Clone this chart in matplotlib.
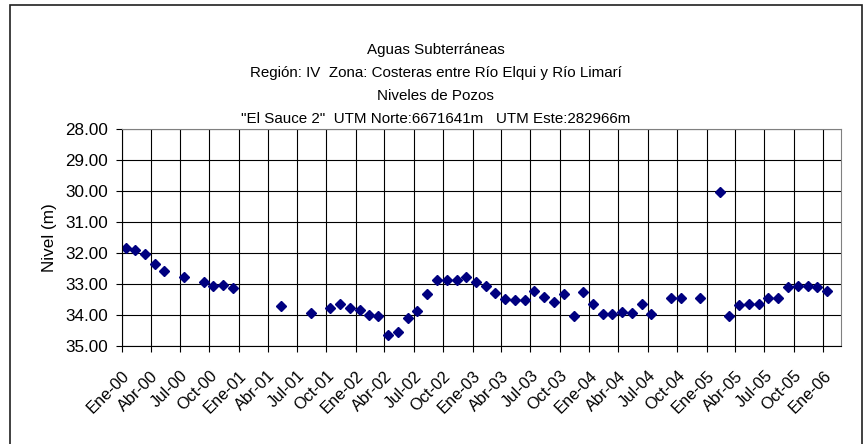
import datetime as dt
import matplotlib
matplotlib.use("Agg")
import matplotlib.pyplot as plt
import matplotlib.dates as mdates
from matplotlib.patches import Rectangle

plt.rcParams['font.family'] = ['Liberation Sans', 'DejaVu Sans']

# monthly readings (year, month) and water level below ground (m)
months = [
    (2000, 1), (2000, 2), (2000, 3), (2000, 4), (2000, 5), (2000, 7), (2000, 9),
    (2000, 10), (2000, 11), (2000, 12), (2001, 5), (2001, 8), (2001, 10),
    (2001, 11), (2001, 12), (2002, 1), (2002, 2), (2002, 3), (2002, 4), (2002, 5),
    (2002, 6), (2002, 7), (2002, 8), (2002, 9), (2002, 10), (2002, 11), (2002, 12),
    (2003, 1), (2003, 2), (2003, 3), (2003, 4), (2003, 5), (2003, 6), (2003, 7),
    (2003, 8), (2003, 9), (2003, 10), (2003, 11), (2003, 12), (2004, 1), (2004, 2),
    (2004, 3), (2004, 4), (2004, 5), (2004, 6), (2004, 7), (2004, 9), (2004, 10),
    (2004, 12), (2005, 2), (2005, 3), (2005, 4), (2005, 5), (2005, 6), (2005, 7),
    (2005, 8), (2005, 9), (2005, 10), (2005, 11), (2005, 12), (2006, 1),
]
nivel = [
    31.85, 31.89, 32.02, 32.37, 32.59, 32.77, 32.94,
    33.05, 33.04, 33.13, 33.72, 33.94, 33.76,
    33.66, 33.77, 33.84, 33.99, 34.04, 34.63, 34.55,
    34.11, 33.86, 33.32, 32.86, 32.86, 32.88, 32.76,
    32.92, 33.07, 33.28, 33.48, 33.51, 33.53, 33.23,
    33.42, 33.59, 33.31, 34.04, 33.25, 33.65, 33.96,
    33.96, 33.91, 33.94, 33.65, 33.96, 33.44, 33.45,
    33.45, 30.03, 34.04, 33.68, 33.63, 33.66, 33.46,
    33.44, 33.10, 33.05, 33.05, 33.11, 33.23,
]
mes_abrev = {1: 'Ene', 4: 'Abr', 7: 'Jul', 10: 'Oct'}

fechas = [dt.date(y, m, 13) for y, m in months]

fig = plt.figure(figsize=(8.66, 4.44), dpi=100)
ax = fig.add_axes([0.1405, 0.2207, 0.8306, 0.4888])

ax.plot(fechas, nivel, linestyle='none', marker='D', markersize=5.3,
        color='#000080', markeredgecolor='#000080')

ax.set_ylim(35, 28)
ax.set_yticks(range(28, 36))
ax.set_yticklabels([f"{v:.2f}" for v in range(28, 36)], fontsize=12.3)
ax.set_ylabel("Nivel (m)", fontsize=12.3, labelpad=6)

ticks = [dt.date(y, m, 1) for y in range(2000, 2007) for m in (1, 4, 7, 10)
         if dt.date(y, m, 1) <= dt.date(2006, 1, 1)]
ax.set_xlim(mdates.date2num(dt.date(2000, 1, 1)), mdates.date2num(dt.date(2006, 2, 25)))
ax.set_xticks(ticks)
ax.set_xticklabels([f"{mes_abrev[t.month]}-{t.year % 100:02d}" for t in ticks],
                   rotation=45, ha='right', rotation_mode='anchor', fontsize=11.8)

ax.grid(True, color='black', linewidth=0.8)
ax.set_axisbelow(True)
ax.tick_params(direction='out', length=4, width=0.8, color='black')
ax.tick_params(axis='y', pad=6)
ax.tick_params(axis='x', pad=12)
for side in ('top', 'right'):
    ax.spines[side].set_color('#808080')
for side in ('left', 'bottom'):
    ax.spines[side].set_color('black')

titulo = ["Aguas Subterráneas",
          "Región: IV  Zona: Costeras entre Río Elqui y Río Limarí",
          "Niveles de Pozos",
          "\"El Sauce 2\"  UTM Norte:6671641m   UTM Este:282966m"]
for i, linea in enumerate(titulo):
    fig.text(0.503, 1 - (50 + 23 * i) / 444, linea, ha='center', va='center', fontsize=10.9)

# chart border (runs off the bottom edge)
fig.patches.append(Rectangle((9.5 / 866, -0.05), 852 / 866, 1.05 - 5.5 / 444,
                             transform=fig.transFigure, fill=False,
                             edgecolor='#202020', linewidth=1.2))

fig.savefig("out.png", dpi=100)
